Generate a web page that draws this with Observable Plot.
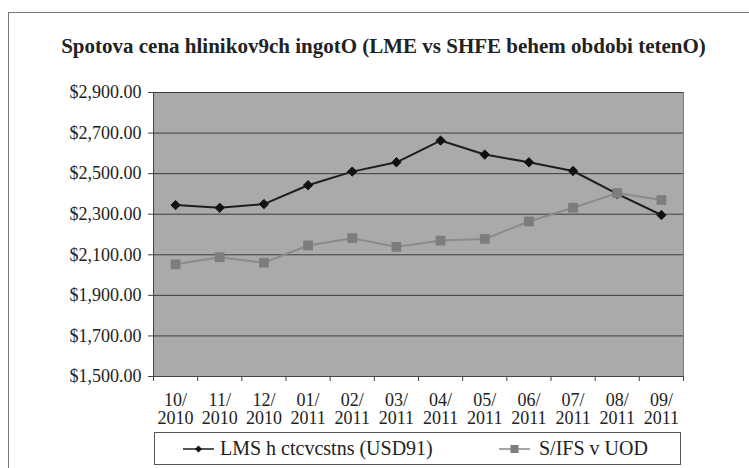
<!DOCTYPE html>
<html>
<head>
<meta charset="utf-8">
<script src="https://cdn.jsdelivr.net/npm/d3@7"></script>
<script src="https://cdn.jsdelivr.net/npm/@observablehq/plot@0.6"></script>
<style>
  html, body { margin: 0; padding: 0; background: #fff; }
  #wrap { position: relative; width: 749px; height: 468px; overflow: hidden; background: #fff; font-family: "Liberation Serif", serif; color: #222; }
  #frame { position: absolute; left: 8px; top: 12px; width: 780px; height: 500px; border: 1px solid #777; box-sizing: border-box; }
  #title { position: absolute; left: 0; top: 36px; width: 767px; text-align: center; font-family: "Liberation Serif", serif; font-weight: bold; font-size: 21px; line-height: 21px; white-space: nowrap; }
  #chart { position: absolute; left: 0; top: 70px; }
  #legend { position: absolute; left: 154px; top: 432px; width: 527px; height: 33px; border: 1px solid #555; box-sizing: border-box; background: #fff; }
  .item { position: absolute; top: 0; height: 31px; line-height: 31px; white-space: nowrap; font-family: "Liberation Serif", serif; font-size: 20px; color: #222; }
  .sw { position: absolute; top: 0; }
</style>
</head>
<body>
<div id="wrap">
  <div id="frame"></div>
  <div id="title"></div>
  <div id="chart"></div>
  <div id="legend"></div>
</div>
<script>
const titleText = "Spotova cena hlinikov9ch ingotO (LME vs SHFE behem obdobi tetenO)";
const months = ["10/2010", "11/2010", "12/2010", "01/2011", "02/2011", "03/2011", "04/2011", "05/2011", "06/2011", "07/2011", "08/2011", "09/2011"];
const seriesNames = ["LMS h ctcvcstns (USD91)", "S/IFS v UOD"];
const lme = [2345, 2332, 2350, 2443, 2510, 2556, 2663, 2594, 2556, 2513, 2400, 2296];
const shfe = [2053, 2088, 2061, 2146, 2182, 2139, 2170, 2178, 2264, 2332, 2404, 2370];
const yTicks = [1500, 1700, 1900, 2100, 2300, 2500, 2700, 2900];

const lmeData = lme.map((v, i) => ({i, v}));
const shfeData = shfe.map((v, i) => ({i, v}));
const boundaries = d3.range(-0.5, months.length, 1);
const fmt = d3.format("$,.2f");

document.getElementById("title").textContent = titleText;

const chart = Plot.plot({
  width: 749,
  height: 355,
  marginTop: 22,
  marginBottom: 49,
  marginLeft: 153,
  marginRight: 66,
  style: {fontFamily: "'Liberation Serif', serif", fontSize: "18px", color: "#222", background: "transparent", overflow: "visible"},
  x: {type: "linear", domain: [-0.5, months.length - 0.5], axis: null},
  y: {domain: [1500, 2900], axis: null},
  marks: [
    Plot.frame({fill: "#aaaaaa", stroke: "#7a7a7a"}),
    Plot.gridY(yTicks.slice(1), {stroke: "#3c3c3c", strokeOpacity: 1}),
    Plot.ruleX([-0.5], {stroke: "#444"}),
    Plot.ruleY([1500], {stroke: "#444"}),
    Plot.axisY({ticks: yTicks, tickFormat: fmt, tickSize: 5, tickPadding: 7, stroke: "#444", fill: "#222", label: null}),
    Plot.axisX({ticks: boundaries, tickFormat: () => "", tickSize: 5, stroke: "#444", label: null}),
    Plot.axisX({ticks: d3.range(months.length), tickFormat: i => months[i].replace("/", "/\n"), tickSize: 0, tickPadding: 16, lineHeight: 1.02, fill: "#222", label: null}),
    Plot.line(lmeData, {x: "i", y: "v", stroke: "#1e1e1e", strokeWidth: 2}),
    Plot.dot(lmeData, {x: "i", y: "v", symbol: "diamond2", r: 4.2, fill: "#111", stroke: "#111", strokeWidth: 1}),
    Plot.line(shfeData, {x: "i", y: "v", stroke: "#8a8a8a", strokeWidth: 2}),
    Plot.dot(shfeData, {x: "i", y: "v", symbol: "square", r: 5.5, fill: "#7d7d7d", stroke: "none"})
  ]
});
document.getElementById("chart").appendChild(chart);

const legend = document.getElementById("legend");
legend.innerHTML = `
  <svg class="sw" style="left:28px" width="31" height="31"><line x1="0" x2="31" y1="16" y2="16" stroke="#1e1e1e" stroke-width="1.5"/><path d="M15.5,12.5L19,16L15.5,19.5L12,16Z" fill="#111"/></svg>
  <div class="item" style="left:65px">${seriesNames[0]}</div>
  <svg class="sw" style="left:344px" width="31" height="31"><line x1="0" x2="31" y1="16" y2="16" stroke="#8a8a8a" stroke-width="1.5"/><rect x="11.5" y="12" width="8" height="8" fill="#7d7d7d"/></svg>
  <div class="item" style="left:384px">${seriesNames[1]}</div>
`;
</script>
</body>
</html>
